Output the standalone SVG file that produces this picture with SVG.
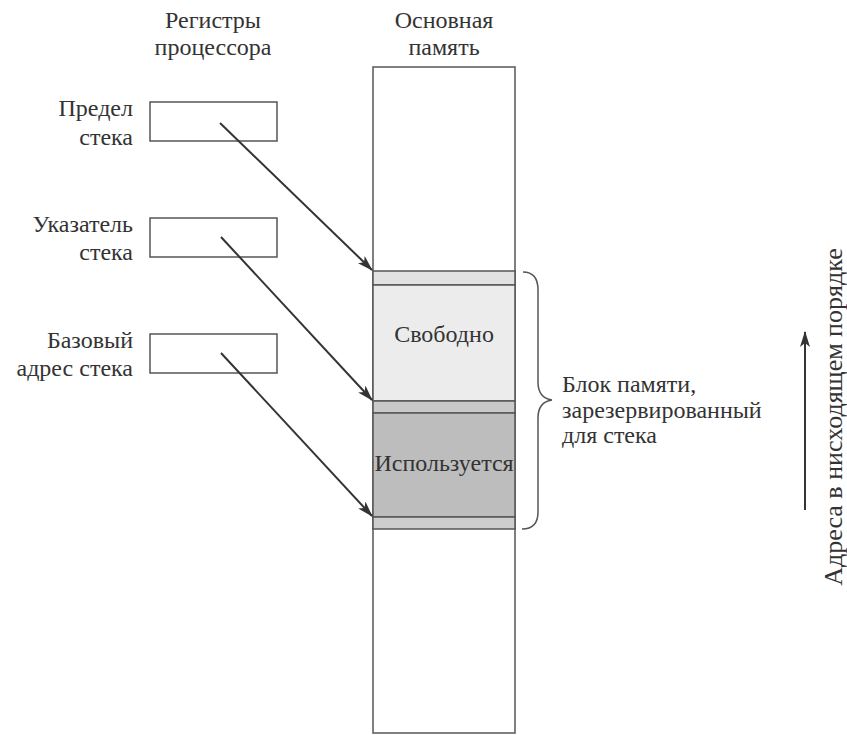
<svg xmlns="http://www.w3.org/2000/svg" width="847" height="735" viewBox="0 0 847 735">
<style>
text{font-family:'Liberation Serif','DejaVu Serif',serif;font-size:24px;fill:#333}
.reg{fill:#fff;stroke:#555;stroke-width:1.5}
.mem{stroke:#555;stroke-width:1.5}
.conn{stroke:#333;stroke-width:2;fill:none;marker-end:url(#ah)}
</style>
<defs>
<marker id="ah" viewBox="0 0 16 10" refX="15" refY="5" markerWidth="16" markerHeight="10" markerUnits="userSpaceOnUse" orient="auto">
<path d="M0,0 L16,5 L0,10 L4,5 Z" fill="#333"/>
</marker>
</defs>
<rect width="847" height="735" fill="#fff"/>
<g font-family="Liberation Serif, DejaVu Serif, serif">
<g id="header-registers"><text x="213" y="28" text-anchor="middle">Регистры</text><text x="213" y="55" text-anchor="middle">процессора</text></g>
<g id="header-memory"><text x="444" y="28" text-anchor="middle">Основная</text><text x="444" y="55" text-anchor="middle">память</text></g>
<g id="reg-limit"><text x="133" y="116" text-anchor="end">Предел</text><text x="133" y="145" text-anchor="end">стека</text><rect class="reg" x="150" y="102" width="127" height="39"/></g>
<g id="reg-pointer"><text x="133" y="232" text-anchor="end">Указатель</text><text x="133" y="260" text-anchor="end">стека</text><rect class="reg" x="150" y="218" width="127" height="39"/></g>
<g id="reg-base"><text x="133" y="348" text-anchor="end">Базовый</text><text x="133" y="376" text-anchor="end">адрес стека</text><rect class="reg" x="150" y="334" width="127" height="39"/></g>
<g id="memory">
<rect class="mem" x="373" y="67" width="142" height="666" fill="#fff"/>
<rect class="mem" x="373" y="271" width="142" height="14" fill="#e2e2e2"/>
<rect class="mem" x="373" y="285" width="142" height="116" fill="#ececec"/>
<rect class="mem" x="373" y="401" width="142" height="12" fill="#c9c9c9"/>
<rect class="mem" x="373" y="413" width="142" height="104" fill="#bdbdbd"/>
<rect class="mem" x="373" y="517" width="142" height="12" fill="#cdcdcd"/>
<text x="444" y="342" text-anchor="middle">Свободно</text>
<text x="444" y="471" text-anchor="middle">Используется</text>
</g>
<g id="brace">
<path d="M523,272 Q538,272 538,290 L538,382 Q538,398 552,400 Q538,402 538,418 L538,512 Q538,529 522,529" fill="none" stroke="#555" stroke-width="1.5"/>
<text x="562" y="392">Блок памяти,</text><text x="562" y="418">зарезервированный</text><text x="562" y="443">для стека</text>
</g>
<g id="address-axis">
<line x1="805" y1="510" x2="805" y2="332" stroke="#333" stroke-width="2" marker-end="url(#ah)"/>
<text transform="translate(842,417) rotate(-90)" text-anchor="middle" style="font-size:26px">Адреса в нисходящем порядке</text>
</g>
<g id="connectors">
<line class="conn" x1="220" y1="123" x2="372" y2="270"/>
<line class="conn" x1="221" y1="237" x2="372" y2="400"/>
<line class="conn" x1="221" y1="353" x2="372" y2="516"/>
</g>
</g>
</svg>
